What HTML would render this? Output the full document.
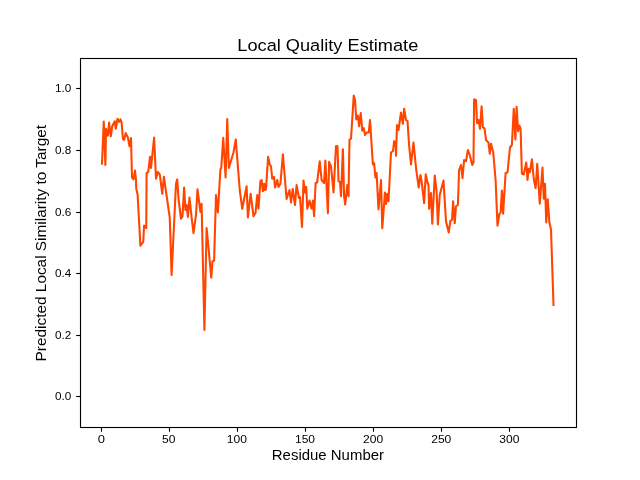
<!DOCTYPE html>
<html><head><meta charset="utf-8"><style>
html,body{margin:0;padding:0;background:#fff;}
svg{display:block;will-change:transform;}
text{font-family:"Liberation Sans",sans-serif;fill:#000;}
</style></head><body>
<svg width="640" height="480" viewBox="0 0 640 480">
<rect x="0" y="0" width="640" height="480" fill="#fff"/>
<path d="M102 163.75 L103.75 121.5 L105.4 165 L106 128.75 L107.9 135.6 L109.1 122.5 L110.75 136.25 L112.25 126.25 L114.75 121.25 L115.75 128.75 L117.5 118.75 L119.1 121.9 L120.4 119.4 L121.6 122.5 L122.9 138.75 L124.1 140 L125.75 133.1 L127.9 137.5 L129.5 146.25 L131 138.1 L132 177.5 L133.5 179.4 L135 170.6 L136 180 L136.25 188.75 L137.6 194.4 L140.4 245.6 L143.25 241.9 L144.1 225.6 L146.25 228.1 L146.6 173.1 L148.25 171.9 L150 156.9 L151 168 L154.1 137.5 L156 178.75 L157.9 171.9 L159.75 174.4 L162.25 193.75 L163.9 176.9 L169.75 217.5 L171.6 275 L176 183.75 L177.25 179.4 L178.5 198.75 L181 218.75 L182.5 216.25 L184.1 187.5 L185.4 210 L186.6 205 L187.9 216.9 L189.5 197.5 L191.6 217.5 L193.5 233.1 L196 215 L197.5 189.4 L200.4 211.9 L201.6 203.75 L204.4 330 L206.6 228.1 L209.1 253.75 L211.25 277.75 L212.5 261.25 L214.1 260.6 L216 195 L217.9 212.5 L220.4 169.4 L221.25 168 L223.25 137.75 L225.6 177.5 L227.25 119 L228.8 168 L233.5 152.5 L235.75 139.4 L239.75 190 L242.25 208.75 L246.6 186.25 L247.9 217.5 L250.6 193.75 L253.5 216.25 L255.5 213 L257.25 195 L258.5 208.75 L260.4 181.25 L261.6 180 L262.9 191.25 L264.1 183.75 L264.75 190 L266 189.4 L268.1 156.9 L269.75 164.4 L271 166.25 L272.25 178.75 L274.1 176.9 L275 187.5 L277.25 180 L278.5 186.9 L280.4 183.75 L282.9 154.4 L286.6 199 L289.5 190 L291 202.5 L292.7 189 L295 205 L296.6 185 L299 198 L300 197 L302 226.9 L303.5 180.6 L305 192.5 L306.25 186.9 L307.25 208.75 L309.5 200.6 L311.6 208.75 L312.9 200.6 L314.1 216.25 L315.6 183 L317.1 182.5 L319.75 161.25 L321.6 180 L324.1 183.1 L325.4 160.6 L327.9 213.1 L329.1 161.9 L331 166.25 L333.5 192.5 L336 146 L337.5 146.25 L338.5 181.25 L340 181.9 L341 196.25 L342.9 149.4 L344.1 196.25 L345.2 204.5 L347.25 185 L348.5 196.25 L349.5 139.4 L351 138.75 L353.75 95.6 L355 100 L356.25 119.4 L357.9 115.6 L359.1 126.25 L360.75 113.1 L362.25 130.6 L363.75 128.1 L365 135 L366.6 132.5 L368.75 132.5 L370 120 L372.9 164.4 L374.1 163.1 L375.4 177.5 L376.6 173.1 L378.5 209.4 L381 180 L382.25 228.1 L385 192.5 L386 204 L387.25 193.75 L388.5 201.25 L391 152.5 L393 151 L394.1 141.25 L395.5 143 L396 155.6 L397 125 L398.5 130 L401 112.5 L402.9 123.75 L404.1 108.75 L406 120 L407.5 121 L409.1 145 L411 164.4 L413.5 142.5 L416.25 170 L418.75 187.5 L420.4 175 L421.6 181.25 L424.1 203.1 L425.75 174.4 L427.5 182.5 L428.5 185 L429.1 208.75 L431 193.1 L432.25 223.75 L434.75 175.6 L436.6 191.25 L437.9 224.4 L439.75 195 L443.5 180.6 L446 221.25 L448.75 232.5 L450.4 220.6 L452 220 L453.1 201.25 L454.75 223.1 L456 206.25 L457.9 205 L459.1 170 L461 165 L462.5 178.1 L464.1 160 L466 161.25 L467.9 150 L469.75 155 L472.25 165 L473.5 162.5 L474.1 99.4 L476 100 L477 123.1 L478.5 120 L480 128.75 L481.6 106.25 L482.9 127.5 L484.5 128.1 L486 140 L488.5 142.5 L489.75 153.75 L491 143.75 L493.25 152.5 L495.6 180 L497.5 225.6 L499.4 213.75 L500.6 212.5 L501.9 190.6 L503.1 213.75 L505.6 173.1 L507.5 172.5 L510 147.5 L511.9 145 L513.75 108.75 L515.4 139.4 L516.6 106.9 L518.1 131.25 L519.4 125.6 L520.6 128.75 L521.9 173.75 L523.75 174.4 L526.25 162.5 L527.5 180 L528.75 168.75 L530 172 L531.9 159.4 L533.75 178.75 L535.6 188.1 L537.25 163.75 L539.75 203.75 L542.5 167.5 L543.75 198.75 L545 183.75 L546.25 222.5 L547.75 199.4 L549.4 222.5 L551 229.4 L553.5 305" fill="none" stroke="#ff4500" stroke-width="2.08" stroke-linejoin="round" stroke-linecap="square"/>
<rect x="80.5" y="58.5" width="496" height="369" fill="none" stroke="#000" stroke-width="1.11"/>
<g stroke="#000" stroke-width="1.11"><line x1="101.5" y1="427.5" x2="101.5" y2="431.7"/><line x1="169.5" y1="427.5" x2="169.5" y2="431.7"/><line x1="237.5" y1="427.5" x2="237.5" y2="431.7"/><line x1="305.5" y1="427.5" x2="305.5" y2="431.7"/><line x1="373.5" y1="427.5" x2="373.5" y2="431.7"/><line x1="441.5" y1="427.5" x2="441.5" y2="431.7"/><line x1="509.5" y1="427.5" x2="509.5" y2="431.7"/><line x1="76.2" y1="396.5" x2="80.5" y2="396.5"/><line x1="76.2" y1="335.5" x2="80.5" y2="335.5"/><line x1="76.2" y1="273.5" x2="80.5" y2="273.5"/><line x1="76.2" y1="212.5" x2="80.5" y2="212.5"/><line x1="76.2" y1="150.5" x2="80.5" y2="150.5"/><line x1="76.2" y1="88.5" x2="80.5" y2="88.5"/></g>
<g font-size="11.1" text-anchor="middle"><text x="101.38" y="442.9" textLength="7.2" lengthAdjust="spacingAndGlyphs">0</text><text x="168.79" y="442.9" textLength="13.40" lengthAdjust="spacingAndGlyphs">50</text><text x="236.91" y="442.9" textLength="20.10" lengthAdjust="spacingAndGlyphs">100</text><text x="305.02" y="442.9" textLength="20.10" lengthAdjust="spacingAndGlyphs">150</text><text x="373.13" y="442.9" textLength="20.10" lengthAdjust="spacingAndGlyphs">200</text><text x="441.25" y="442.9" textLength="20.10" lengthAdjust="spacingAndGlyphs">250</text><text x="509.36" y="442.9" textLength="20.10" lengthAdjust="spacingAndGlyphs">300</text></g>
<g font-size="11.1" text-anchor="end"><text x="71.3" y="400.40" textLength="16.3" lengthAdjust="spacingAndGlyphs">0.0</text><text x="71.3" y="338.80" textLength="16.3" lengthAdjust="spacingAndGlyphs">0.2</text><text x="71.3" y="277.20" textLength="16.3" lengthAdjust="spacingAndGlyphs">0.4</text><text x="71.3" y="215.60" textLength="16.3" lengthAdjust="spacingAndGlyphs">0.6</text><text x="71.3" y="154.00" textLength="16.3" lengthAdjust="spacingAndGlyphs">0.8</text><text x="71.3" y="92.40" textLength="16.3" lengthAdjust="spacingAndGlyphs">1.0</text></g>
<text x="327.8" y="50.7" font-size="16.3" text-anchor="middle" textLength="181" lengthAdjust="spacingAndGlyphs">Local Quality Estimate</text>
<text x="327.9" y="459.9" font-size="13.9" text-anchor="middle" textLength="112.2" lengthAdjust="spacingAndGlyphs">Residue Number</text>
<text transform="translate(45.9 243.2) rotate(-90)" x="0" y="0" font-size="13.9" text-anchor="middle" textLength="236.4" lengthAdjust="spacingAndGlyphs">Predicted Local Similarity to Target</text>
</svg>
</body></html>
